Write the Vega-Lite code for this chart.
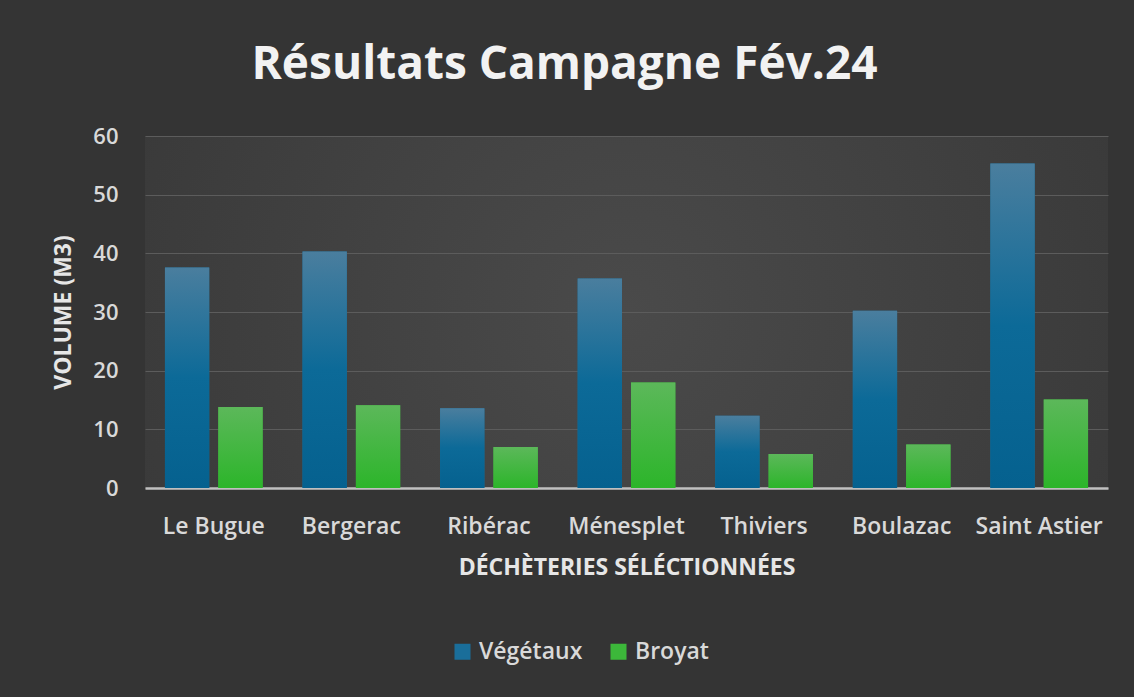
{
  "$schema": "https://vega.github.io/schema/vega-lite/v6.json",
  "width": 963,
  "height": 352,
  "autosize": {"type": "none"},
  "padding": {"left": 145, "top": 136, "right": 26, "bottom": 209},
  "background": "#343434",
  "config": {
    "font": "Open Sans",
    "view": {"stroke": null, "fill": {"gradient": "radial", "x1": 0.5, "y1": 0.5, "r1": 0, "x2": 0.5, "y2": 0.5, "r2": 0.75, "stops": [{"offset": 0, "color": "#4a4a4a"}, {"offset": 1, "color": "#343434"}]}},
    "axis": {"labelColor": "#d9d9d9", "titleColor": "#e6e6e6", "labelFont": "Open Sans", "titleFont": "Open Sans"}
  },
  "title": {
    "text": "Résultats Campagne Fév.24",
    "font": "Open Sans",
    "fontSize": 46,
    "fontWeight": "bold",
    "color": "#f2f2f2",
    "anchor": "middle",
    "baseline": "alphabetic",
    "offset": 0,
    "dx": -62
  },
  "data": {
    "values": [
      {"site": "Le Bugue", "type": "Végétaux", "volume": 37.6},
      {"site": "Le Bugue", "type": "Broyat", "volume": 13.8},
      {"site": "Bergerac", "type": "Végétaux", "volume": 40.3},
      {"site": "Bergerac", "type": "Broyat", "volume": 14.1},
      {"site": "Ribérac", "type": "Végétaux", "volume": 13.6},
      {"site": "Ribérac", "type": "Broyat", "volume": 7.0},
      {"site": "Ménesplet", "type": "Végétaux", "volume": 35.7},
      {"site": "Ménesplet", "type": "Broyat", "volume": 18.0},
      {"site": "Thiviers", "type": "Végétaux", "volume": 12.3},
      {"site": "Thiviers", "type": "Broyat", "volume": 5.8},
      {"site": "Boulazac", "type": "Végétaux", "volume": 30.2},
      {"site": "Boulazac", "type": "Broyat", "volume": 7.4},
      {"site": "Saint Astier", "type": "Végétaux", "volume": 55.3},
      {"site": "Saint Astier", "type": "Broyat", "volume": 15.1}
    ]
  },
  "encoding": {
    "x": {
      "field": "site",
      "type": "nominal",
      "sort": null,
      "scale": {"paddingInner": 0.29, "paddingOuter": 0.145},
      "axis": {
        "title": "DÉCHÈTERIES SÉLÉCTIONNÉES",
        "labelAngle": 0,
        "labelFontSize": 23,
        "labelFontWeight": 600,
        "labelPadding": 27,
        "ticks": false,
        "domainColor": "#c0c0c0",
        "domainWidth": 2.5,
        "titleFontSize": 23,
        "titleFontWeight": "bold",
        "titlePadding": 18
      }
    },
    "xOffset": {"field": "type", "type": "nominal", "sort": ["Végétaux", "Broyat"], "scale": {"paddingInner": 0.17}},
    "y": {
      "field": "volume",
      "type": "quantitative",
      "scale": {"domain": [0, 60], "nice": false},
      "axis": {
        "title": "VOLUME (M3)",
        "values": [0, 10, 20, 30, 40, 50, 60],
        "domain": false,
        "ticks": false,
        "labelFontSize": 22,
        "labelFontWeight": 600,
        "labelPadding": 27,
        "gridColor": "#5c5c5c",
        "gridWidth": 1,
        "titleFontSize": 23,
        "titleFontWeight": "bold",
        "titlePadding": 17
      }
    }
  },
  "layer": [
    {
      "mark": {"type": "bar"},
      "encoding": {
        "color": {
          "field": "type",
          "type": "nominal",
          "scale": {"domain": ["Végétaux", "Broyat"], "range": ["#1a6e9a", "#3cb83a"]},
          "legend": {
            "title": null,
            "orient": "none",
            "direction": "horizontal",
            "legendX": 306,
            "legendY": 504,
            "padding": 0,
            "symbolType": "square",
            "symbolSize": 256,
            "symbolStrokeWidth": 0,
            "labelFontSize": 23,
            "labelFontWeight": 600,
            "labelColor": "#d9d9d9",
            "labelOffset": 5,
            "columnPadding": 24
          }
        }
      }
    },
    {
      "mark": {"type": "bar"},
      "encoding": {
        "color": {
          "condition": {
            "test": "datum.type === 'Végétaux'",
            "value": {"gradient": "linear", "x1": 0, "y1": 0, "x2": 0, "y2": 1, "stops": [{"offset": 0, "color": "#4a7e9e"}, {"offset": 0.5, "color": "#0c6a98"}, {"offset": 1, "color": "#05618f"}]}
          },
          "value": {"gradient": "linear", "x1": 0, "y1": 0, "x2": 0, "y2": 1, "stops": [{"offset": 0, "color": "#5cb85a"}, {"offset": 1, "color": "#2cb52a"}]}
        }
      }
    }
  ]
}
